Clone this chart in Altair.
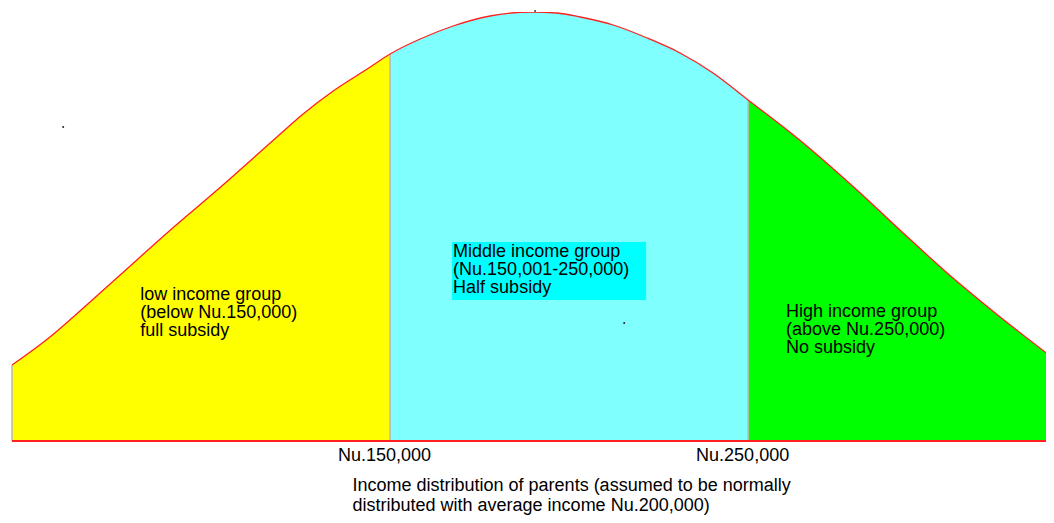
import altair as alt
import pandas as pd

# Income (thousand Nu.) and relative frequency
income = [44.4, 55.0, 61.5, 74.6, 87.7, 101.7, 118.4, 125.7, 134.1, 143.6, 150.0,
          158.4, 167.6, 177.9, 189.9, 196.6, 203.1, 212.3, 221.8, 231.0, 240.2, 250.0,
          263.7, 280.4, 293.3, 305.6, 320.4, 335.5]
freq = [76, 104, 124, 166, 208, 251, 304, 327, 350, 372, 387,
        402, 415, 425, 429, 428, 424, 416, 403, 388, 368, 341,
        303, 251, 208, 168, 124, 82]

groups = ["low", "mid", "high"]
group_colors = ["#ffff00", "#80ffff", "#00ff00"]
bounds = [150.0, 250.0]
tick_values = [150, 250]
tick_labels = ["Nu.150,000", "Nu.250,000"]

label_texts = [
    "low income group\n(below Nu.150,000)\nfull subsidy",
    "Middle income group\n(Nu.150,001-250,000)\nHalf subsidy",
    "High income group\n(above Nu.250,000)\nNo subsidy",
]
label_x = [80.2, 167.6, 260.6]
label_y = [155, 198, 138]

# stray specks in the original picture
speck_x = [58.7, 215.4, 190.5]
speck_y = [314, 118, 430]

x_domain = [44.4, 333.2]
y_domain = [0, 429]

rows = []
for xv, yv in zip(income, freq):
    if xv <= bounds[0]:
        rows.append({"income": xv, "freq": yv, "group": "low"})
    if bounds[0] <= xv <= bounds[1]:
        rows.append({"income": xv, "freq": yv, "group": "mid"})
    if xv >= bounds[1]:
        rows.append({"income": xv, "freq": yv, "group": "high"})
df = pd.DataFrame(rows)
curve = pd.DataFrame({"income": income, "freq": freq})

xs = alt.Scale(domain=x_domain, nice=False, zero=False)
ys = alt.Scale(domain=y_domain, nice=False, zero=True)

label_expr = "datum.value == 150 ? '%s' : '%s'" % (tick_labels[0], tick_labels[1])

areas = alt.Chart(df).mark_area(clip=True, interpolate="monotone").encode(
    x=alt.X("income:Q", scale=xs, axis=alt.Axis(
        values=tick_values, labelExpr=label_expr, grid=False, domain=False,
        ticks=False, labelFont="Liberation Sans", labelFontSize=18,
        labelColor="#000000", labelPadding=5, labelOffset=-6,
        title=["Income distribution of parents (assumed to be normally",
               "distributed with average income Nu.200,000)"],
        titleFont="Liberation Sans", titleFontSize=18, titleFontWeight="normal",
        titleColor="#000000", titleAlign="left", titleAnchor="start",
        titleX=340, titleY=35, titleBaseline="top", titleLineHeight=20)),
    y=alt.Y("freq:Q", scale=ys, axis=None, stack=None),
    color=alt.Color("group:N", scale=alt.Scale(domain=groups, range=group_colors), legend=None),
    detail="group:N",
)

edges = pd.DataFrame({"income": [income[0], bounds[0], bounds[1]],
                      "freq": [freq[0], freq[income.index(bounds[0])], freq[income.index(bounds[1])]],
                      "zero": [0, 0, 0]})
vlines = alt.Chart(edges).mark_rule(color="#b8b8b8", strokeWidth=1.5).encode(
    x="income:Q", y="freq:Q", y2="zero:Q"
)

outline = alt.Chart(curve).mark_line(clip=True, interpolate="monotone", color="#ff2020",
                                     strokeWidth=1.3).encode(x="income:Q", y="freq:Q")

base_df = pd.DataFrame({"lo": [x_domain[0]], "hi": [x_domain[1]], "zero": [0]})
baseline = alt.Chart(base_df).mark_rule(color="#ff2020", strokeWidth=2).encode(
    x="lo:Q", x2="hi:Q", y="zero:Q"
)

box = alt.Chart(pd.DataFrame({"x": [167.3], "x2": [221.5], "y": [199], "y2": [141]})).mark_rect(
    color="#00ffff").encode(x="x:Q", x2="x2:Q", y="y:Q", y2="y2:Q")

labels = alt.Chart(pd.DataFrame({"t": label_texts, "x": label_x, "y": label_y})).mark_text(
    align="left", baseline="top", lineBreak="\n", font="Liberation Sans", fontSize=18,
    lineHeight=18, color="#000000").encode(x="x:Q", y="y:Q", text="t:N")

specks = alt.Chart(pd.DataFrame({"x": speck_x, "y": speck_y})).mark_square(
    size=3, color="#202020", opacity=1).encode(x="x:Q", y="y:Q")

chart = alt.layer(areas, vlines, outline, baseline, box, labels, specks).properties(
    width=1034, height=429,
    autosize=alt.AutoSizeParams(type="none"),
    padding={"left": 4, "top": 4, "right": 0, "bottom": 74},
    background="#ffffff",
).configure_view(stroke=None)

chart.save("out.html", embed_options={"renderer": "svg", "actions": False})
